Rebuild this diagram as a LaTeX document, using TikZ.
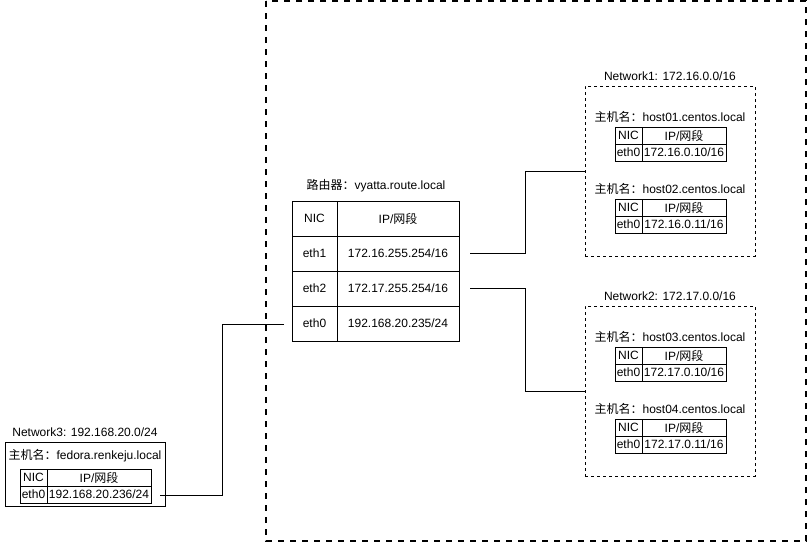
\documentclass[tikz,border=0pt]{standalone}
\usepackage{fontspec}
\setmainfont{Liberation Sans}
\newfontfamily\cjk{Noto Sans CJK SC}
\tikzset{
  every node/.style={font=\fontsize{12}{14}\selectfont, inner sep=0pt},
  cell/.style={draw=black, line width=1pt, outer sep=0pt, anchor=north west},
  bigframe/.style={draw=black, line width=2pt, dash pattern=on 6pt off 6pt},
  netframe/.style={draw=black, line width=1pt, outer sep=0pt, dash pattern=on 3pt off 3pt},
  hostframe/.style={draw=black, line width=1pt, outer sep=0pt},
  wire/.style={draw=black, line width=1pt},
  lbl/.style={anchor=center}
}
% host table: prefix, left x, top y, NIC width, IP width, address
\newcommand{\hosttab}[6]{%
  \node[cell, minimum width=#4pt, minimum height=17pt] (#1nich) at (#2,#3) {NIC};
  \node[cell, minimum width=#5pt, minimum height=17pt] (#1iph) at (#1nich.north east) {IP/{\cjk 网段}};
  \node[cell, minimum width=#4pt, minimum height=17pt] (#1nic) at (#1nich.south west) {eth0};
  \node[cell, minimum width=#5pt, minimum height=17pt] (#1ip) at (#1nic.north east) {#6};
}
\begin{document}
\begin{tikzpicture}[x=1pt, y=-1pt]
\useasboundingbox (0,0) rectangle (807,542);

% outer routed area
\draw[bigframe] (266,1) rectangle (806,541);

% router
\node[lbl] (rtitle) at (376,186) {{\cjk 路由器：}vyatta.route.local};
\node[cell, minimum width=45pt, minimum height=35pt] (rnich) at (292,201) {NIC};
\node[cell, minimum width=122pt, minimum height=35pt] (riph) at (rnich.north east) {IP/{\cjk 网段}};
\node[cell, minimum width=45pt, minimum height=35pt] (reth1) at (rnich.south west) {eth1};
\node[cell, minimum width=122pt, minimum height=35pt] (rip1) at (reth1.north east) {172.16.255.254/16};
\node[cell, minimum width=45pt, minimum height=35pt] (reth2) at (reth1.south west) {eth2};
\node[cell, minimum width=122pt, minimum height=35pt] (rip2) at (reth2.north east) {172.17.255.254/16};
\node[cell, minimum width=45pt, minimum height=35pt] (reth0) at (reth2.south west) {eth0};
\node[cell, minimum width=122pt, minimum height=35pt] (rip0) at (reth0.north east) {192.168.20.235/24};

% network 1
\node[lbl] (n1title) at (670,76) {Network1: 172.16.0.0/16};
\node[netframe, minimum width=170pt, minimum height=170pt, anchor=north west] (net1) at (585,86) {};
\node[lbl] (h1name) at (670,117) {{\cjk 主机名：}host01.centos.local};
\hosttab{ha}{615}{127}{27}{84}{172.16.0.10/16}
\node[lbl] (h2name) at (670,189) {{\cjk 主机名：}host02.centos.local};
\hosttab{hb}{615}{199}{27}{84}{172.16.0.11/16}

% network 2
\node[lbl] (n2title) at (670,296) {Network2: 172.17.0.0/16};
\node[netframe, minimum width=170pt, minimum height=170pt, anchor=north west] (net2) at (585,306) {};
\node[lbl] (h3name) at (670,337) {{\cjk 主机名：}host03.centos.local};
\hosttab{hc}{615}{347}{27}{84}{172.17.0.10/16}
\node[lbl] (h4name) at (670,409) {{\cjk 主机名：}host04.centos.local};
\hosttab{hd}{615}{419}{27}{84}{172.17.0.11/16}

% network 3
\node[lbl] (n3title) at (85,432) {Network3: 192.168.20.0/24};
\node[hostframe, minimum width=160pt, minimum height=64pt, anchor=north west] (net3) at (5,442) {};
\node[lbl] (h5name) at (85,456) {{\cjk 主机名：}fedora.renkeju.local};
\hosttab{he}{20}{469}{27}{104}{192.168.20.236/24}

% wire end points
\coordinate (r1) at (470,253);
\coordinate (r2) at (470,288);
\coordinate (r0) at (284,324);
\coordinate (f0) at (160,495);

% links
\draw[wire] (r1) -- (525,253) |- (net1.west);
\draw[wire] (r2) -- (525,288) |- (net2.west);
\draw[wire] (r0) -- (222,324) |- (f0);
\end{tikzpicture}
\end{document}
